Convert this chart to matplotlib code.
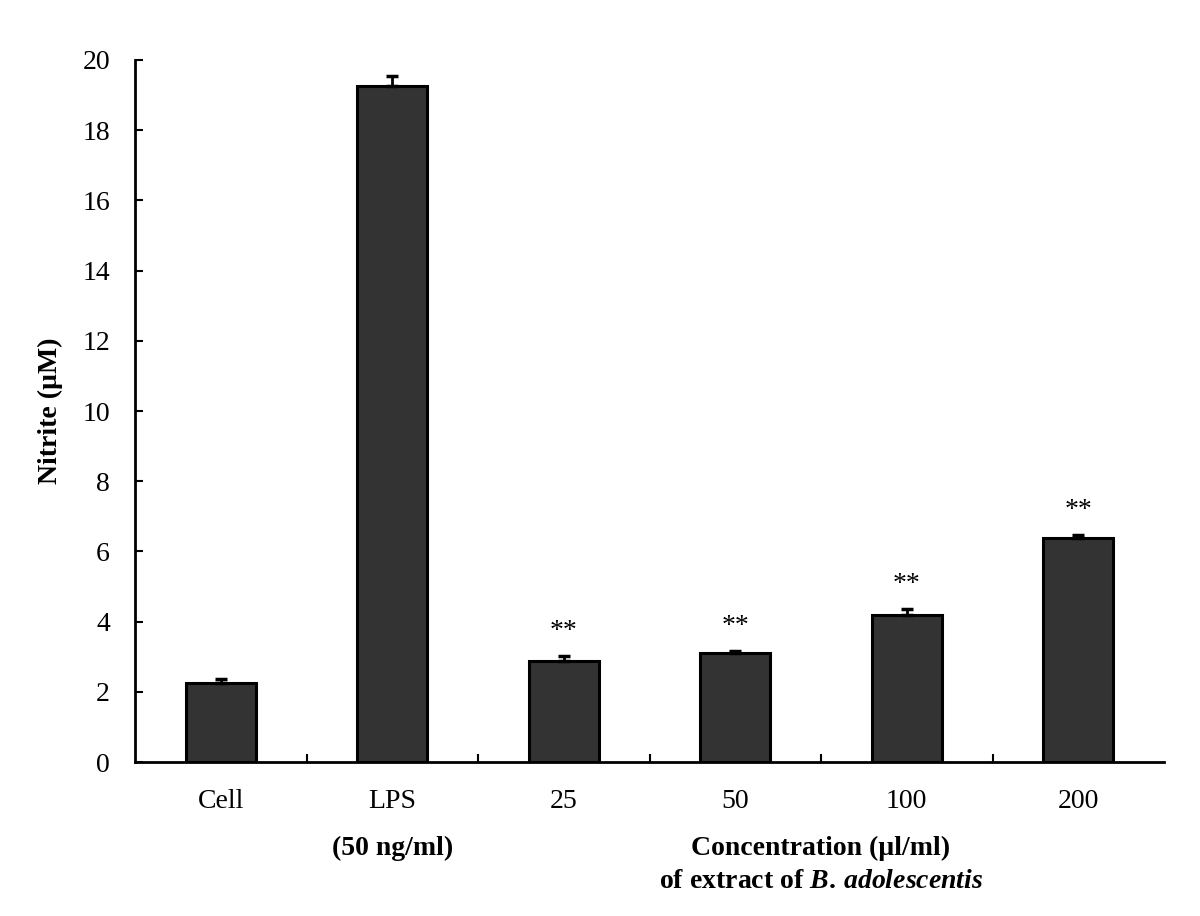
import matplotlib
matplotlib.use("Agg")
import matplotlib.pyplot as plt
import numpy as np

plt.rcParams["font.family"] = ["Liberation Serif", "DejaVu Serif"]
plt.rcParams["mathtext.fontset"] = "custom"
plt.rcParams["mathtext.rm"] = "Liberation Serif:bold"
plt.rcParams["mathtext.it"] = "Liberation Serif:bold:italic"
plt.rcParams["mathtext.bf"] = "Liberation Serif:bold"

categories = ["Cell", "LPS", "25", "50", "100", "200"]
nitrite = [2.25, 19.26, 2.88, 3.12, 4.18, 6.38]
errors = [0.12, 0.28, 0.13, 0.04, 0.17, 0.08]
signif = ["", "", "**", "**", "**", "**"]

fig = plt.figure(figsize=(12, 9.16), dpi=100)
ax = fig.add_axes([0.1125, 0.168, 0.8575, 0.7665])

x = np.arange(len(categories))
ax.bar(x, nitrite, width=0.41, color="#333333", edgecolor="black", linewidth=2.2, zorder=2)
ax.errorbar(x, nitrite, yerr=[np.zeros(len(x)), errors], fmt="none",
            ecolor="black", elinewidth=2, capsize=4.5, capthick=2.5, zorder=3)

for xi, v, e, s in zip(x, nitrite, errors, signif):
    if s:
        ax.text(xi, v + e + 0.35, s, ha="center", va="bottom", fontsize=20)

ax.set_xlim(-0.5, len(categories) - 0.5)
ax.set_ylim(0, 20)
ax.set_yticks(range(0, 21, 2))
ax.tick_params(axis="y", direction="in", length=6, width=1.5, labelsize=20, pad=18)
ax.set_xticks(x[:-1] + 0.5)
ax.set_xticklabels([])
ax.tick_params(axis="x", direction="in", length=6, width=1.5)
for xi, c in zip(x, categories):
    ax.text(xi, -0.78, c, ha="center", va="top", fontsize=20)

for s in ("top", "right"):
    ax.spines[s].set_visible(False)
ax.spines["left"].set_linewidth(2)
ax.spines["bottom"].set_linewidth(2)

ax.set_ylabel("Nitrite (\u00b5M)", fontsize=20, fontweight="bold", labelpad=14)

ax.text(1, -2.11, "(50 ng/ml)", ha="center", va="top", fontsize=20, fontweight="bold")
ax.text(3.5, -2.11, "Concentration (\u00b5l/ml)", ha="center", va="top", fontsize=20, fontweight="bold")
ax.text(3.5, -3.05, r"$\mathrm{of\ extract\ of\ }\mathit{B.\,adolescentis}$",
        ha="center", va="top", fontsize=20)

fig.savefig("out.png", dpi=100)
